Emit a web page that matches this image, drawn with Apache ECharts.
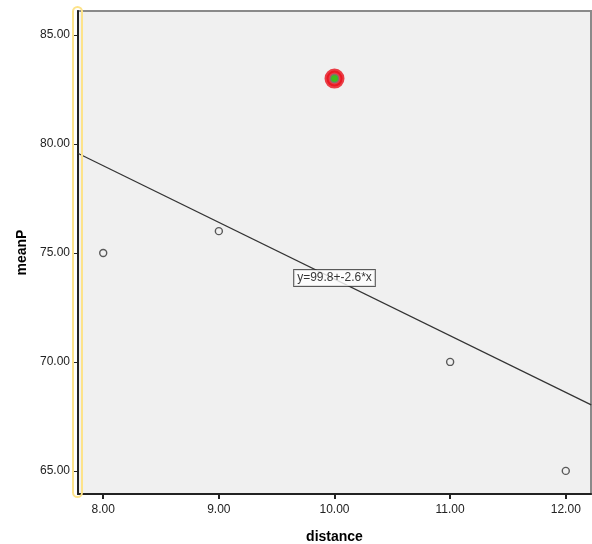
<!DOCTYPE html>
<html><head><meta charset="utf-8">
<script src="https://cdn.jsdelivr.net/npm/echarts@6/dist/echarts.min.js"></script>
<style>html,body{margin:0;padding:0;background:#fff}#c{width:592px;height:544px}</style>
</head><body><div id="c"></div>
<script>
const distance = [8, 9, 10, 11, 12];
const meanP = [75, 76, 83, 70, 65];
const highlightX = [10];
const highlightY = [83];
const fitX = [7.78, 12.22];
const fitY = [79.57, 68.03];
const xTicks = [8, 9, 10, 11, 12];
const yTicks = [65, 70, 75, 80, 85];
const eqLabel = 'y=99.8+-2.6*x';
const eqPos = [10, 73.85];

const chart = echarts.init(document.getElementById('c'));
const font = 'Liberation Sans, Arial, sans-serif';
chart.setOption({
  animation: false,
  grid: {left: 78, right: 1, top: 11, bottom: 50, outerBoundsMode: 'none', containLabel: false,
    show: true, backgroundColor: '#f0f0f0', borderColor: '#8a8a8a', borderWidth: 2},
  xAxis: {
    type: 'value', min: 7.782, max: 12.218,
    name: 'distance', nameLocation: 'middle', nameGap: 36,
    nameTextStyle: {fontFamily: font, fontWeight: 'bold', fontSize: 14, color: '#000'},
    axisLine: {show: true, onZero: false, lineStyle: {color: '#222', width: 2}},
    axisTick: {show: true, length: 5, customValues: xTicks, lineStyle: {color: '#222', width: 2}},
    axisLabel: {customValues: xTicks, formatter: v => v.toFixed(2), fontFamily: font, fontSize: 12, color: '#222', margin: 10},
    splitLine: {show: false}
  },
  yAxis: {
    type: 'value', min: 63.94, max: 86.1,
    name: 'meanP', nameLocation: 'middle', nameGap: 48,
    nameTextStyle: {fontFamily: font, fontWeight: 'bold', fontSize: 14, color: '#000'},
    axisLine: {show: true, onZero: false, lineStyle: {color: '#222', width: 2}},
    axisTick: {show: true, length: 4, customValues: yTicks, lineStyle: {color: '#222', width: 1}},
    axisLabel: {customValues: yTicks, formatter: v => v.toFixed(2), fontFamily: font, fontSize: 12, color: '#222', margin: 8},
    splitLine: {show: false}
  },
  graphic: [{
    type: 'rect', z: 100,
    shape: {x: 73, y: 7, width: 9, height: 490, r: 5},
    style: {fill: 'none', stroke: '#fde38a', lineWidth: 2}
  }],
  series: [
    {type: 'line', data: fitX.map((x, i) => [x, fitY[i]]), symbol: 'none', lineStyle: {color: '#333', width: 1.2}, z: 2},
    {type: 'scatter', data: distance.map((x, i) => [x, meanP[i]]).filter((d, i) => distance[i] !== highlightX[0]),
      symbol: 'circle', symbolSize: 7, itemStyle: {color: 'transparent', borderColor: '#333', borderWidth: 1.4}, z: 3},
    {type: 'scatter', data: highlightX.map((x, i) => [x, highlightY[i]]), symbol: 'circle', symbolSize: 16,
      itemStyle: {color: '#e8101c', borderColor: '#e8101c', borderWidth: 4}, z: 4},
    {type: 'scatter', data: highlightX.map((x, i) => [x, highlightY[i]]), symbol: 'circle', symbolSize: 8,
      itemStyle: {color: '#10e010', borderColor: '#777', borderWidth: 1.5}, z: 5},
    {type: 'scatter', data: [eqPos], symbolSize: 0, z: 6,
      label: {show: true, position: 'inside', formatter: eqLabel, fontFamily: font, fontSize: 12, color: '#000',
        backgroundColor: '#fff', borderColor: '#333', borderWidth: 1, padding: [2, 3, 2, 3]}}
  ]
});
</script></body></html>
